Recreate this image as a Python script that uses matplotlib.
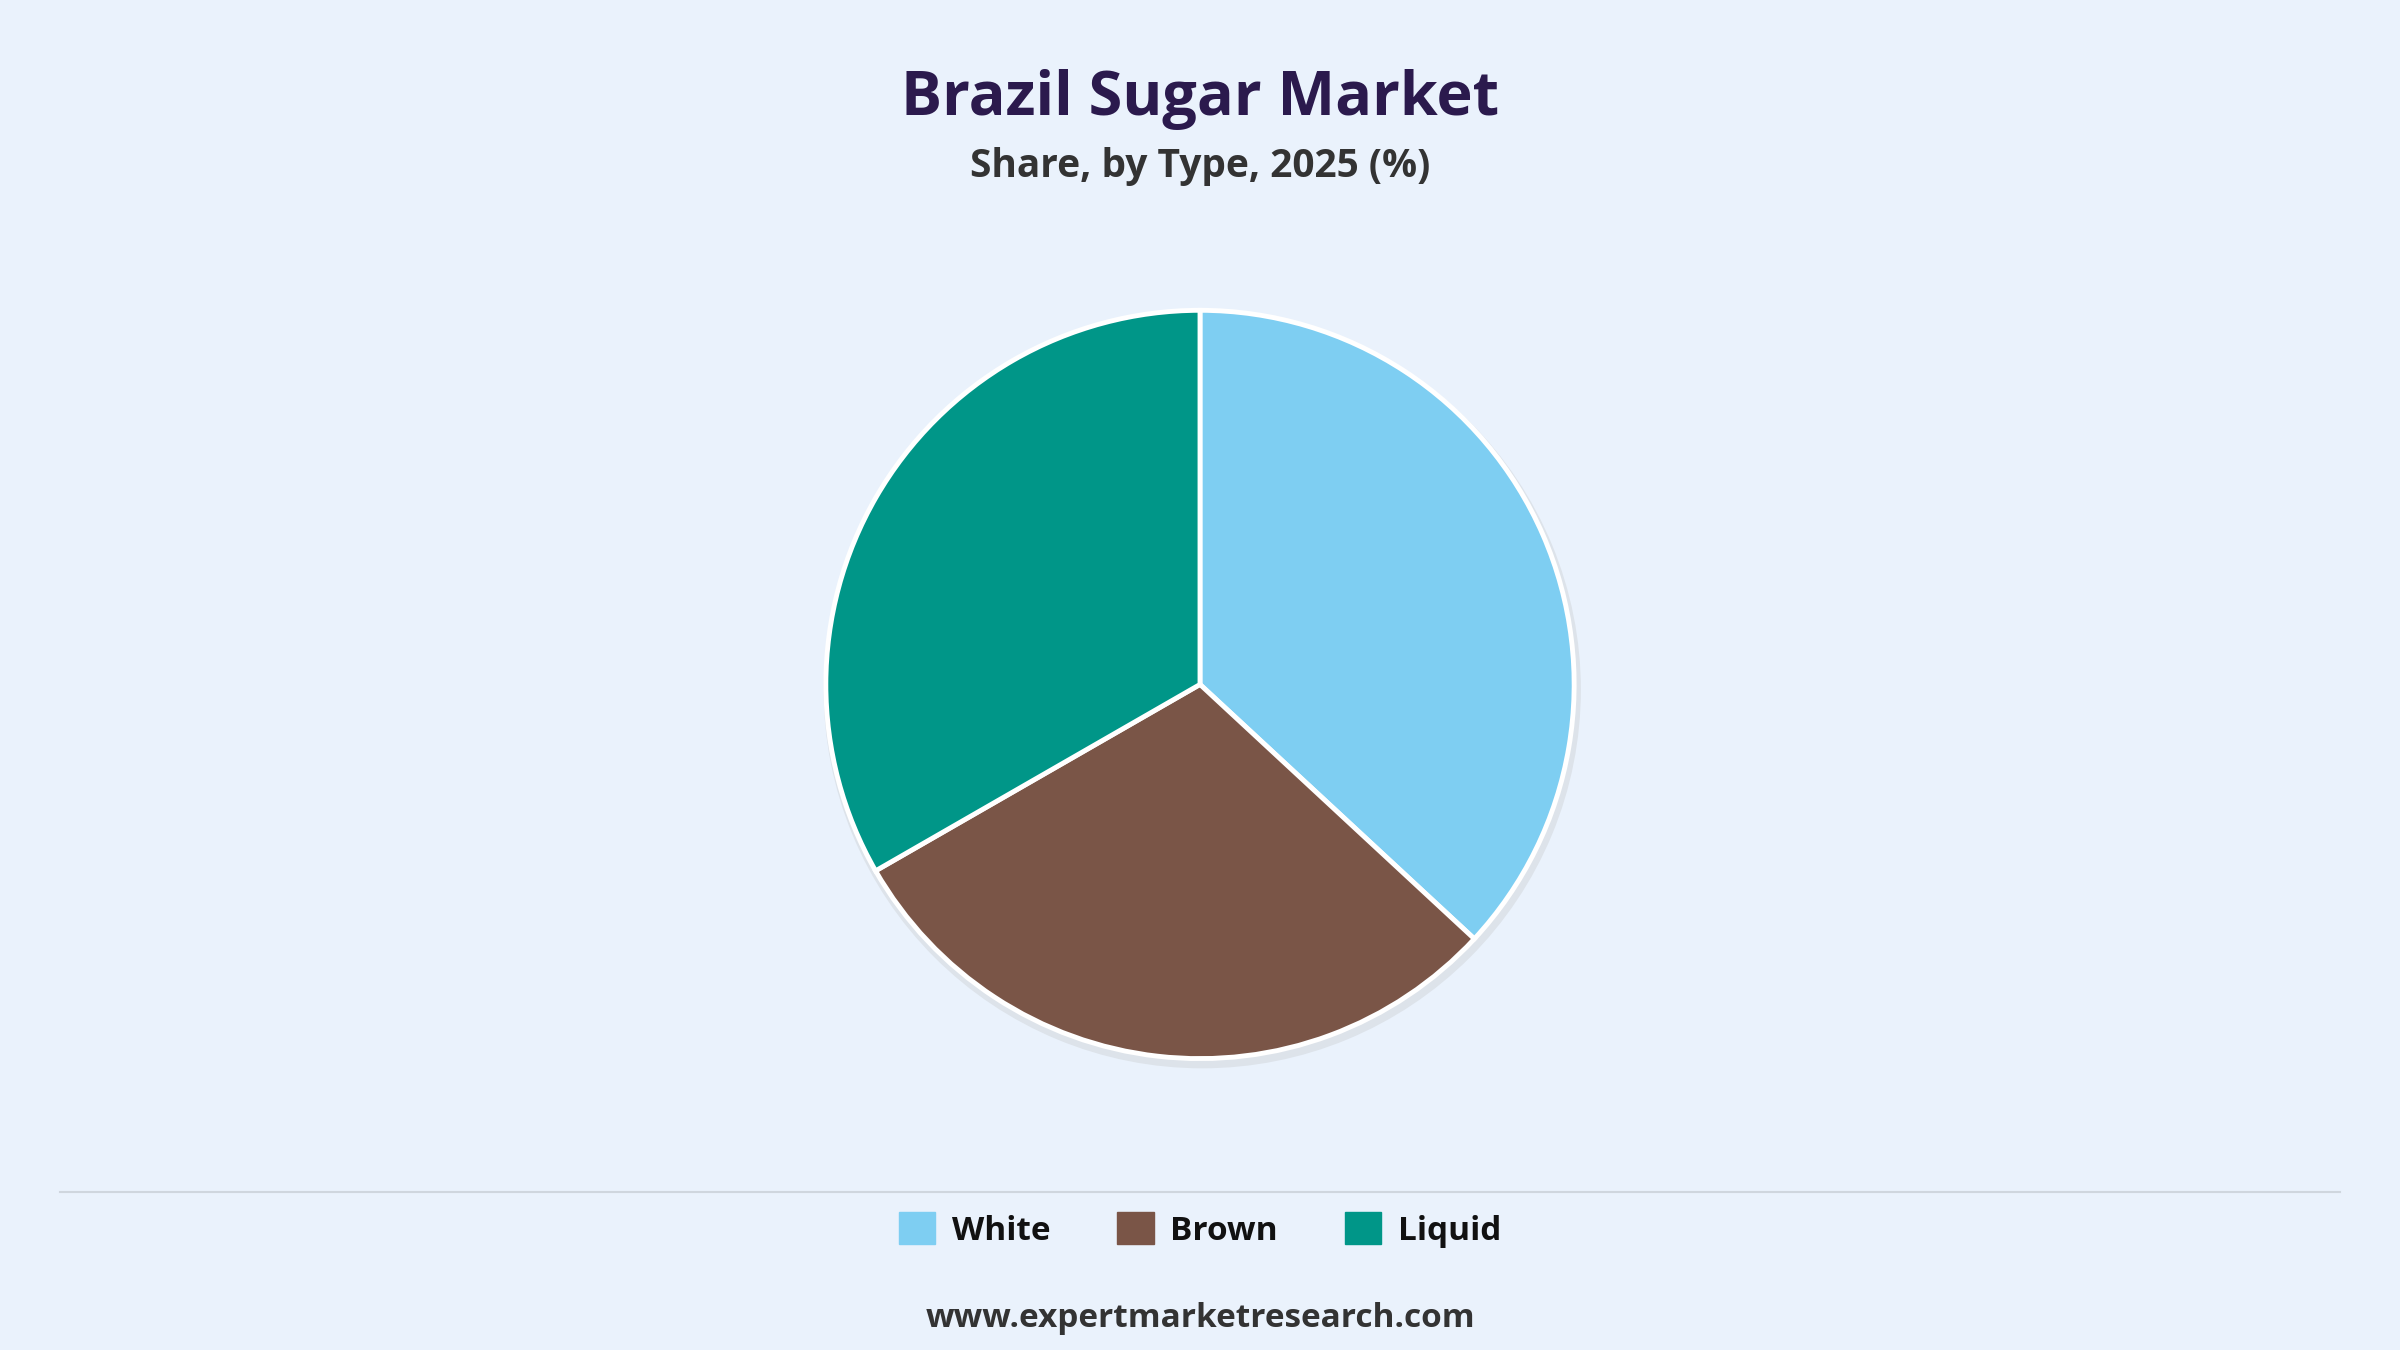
import matplotlib.pyplot as plt
from matplotlib.patches import Patch
from matplotlib.lines import Line2D

labels = ["White", "Brown", "Liquid"]
shares = [36.9, 29.8, 33.3]
colors = ["#7ecef2", "#7a5547", "#009688"]

bg = "#eaf2fc"
fig = plt.figure(figsize=(24, 13.5), dpi=100, facecolor=bg)
plt.rcParams['font.family'] = ['Open Sans', 'DejaVu Sans']

fig.text(0.5, 0.926, "Brazil Sugar Market", ha="center", va="center",
         fontsize=44, fontweight="bold", color="#2b1a4d")
fig.text(0.5, 0.877, "Share, by Type, 2025 (%)", ha="center", va="center",
         fontsize=28, fontweight="bold", color="#333333")

h = 0.582
ax = fig.add_axes([0.5 - h * 1350 / 2400 / 2, 0.493 - h / 2, h * 1350 / 2400, h])
ax.set_facecolor(bg)
# soft shadow
ax.pie([1], radius=1.012, colors=["#dde3ea"], center=(0.006, -0.014),
       wedgeprops=dict(linewidth=0))
ax.pie(shares, colors=colors, startangle=90, counterclock=False,
       wedgeprops=dict(edgecolor="white", linewidth=3.5))
ax.set_aspect("equal")
ax.set_xlim(-1.05, 1.05)
ax.set_ylim(-1.05, 1.05)
ax.axis("off")

fig.add_artist(Line2D([0.025, 0.975], [0.117, 0.117], color="#cfd6de", linewidth=1.5))

handles = [Patch(facecolor=c, edgecolor=c, label=l) for c, l in zip(colors, labels)]
leg = fig.legend(handles=handles, loc="center", bbox_to_anchor=(0.5, 0.089), ncol=3,
                 frameon=False, fontsize=24, handlelength=1.1, handleheight=1.1,
                 columnspacing=2.0, handletextpad=0.5)
for t in leg.get_texts():
    t.set_fontweight("bold")
    t.set_color("#111111")

fig.text(0.5, 0.023, "www.expertmarketresearch.com", ha="center", va="center",
         fontsize=24, fontweight="bold", color="#333333")

fig.savefig("out.png", facecolor=bg)
